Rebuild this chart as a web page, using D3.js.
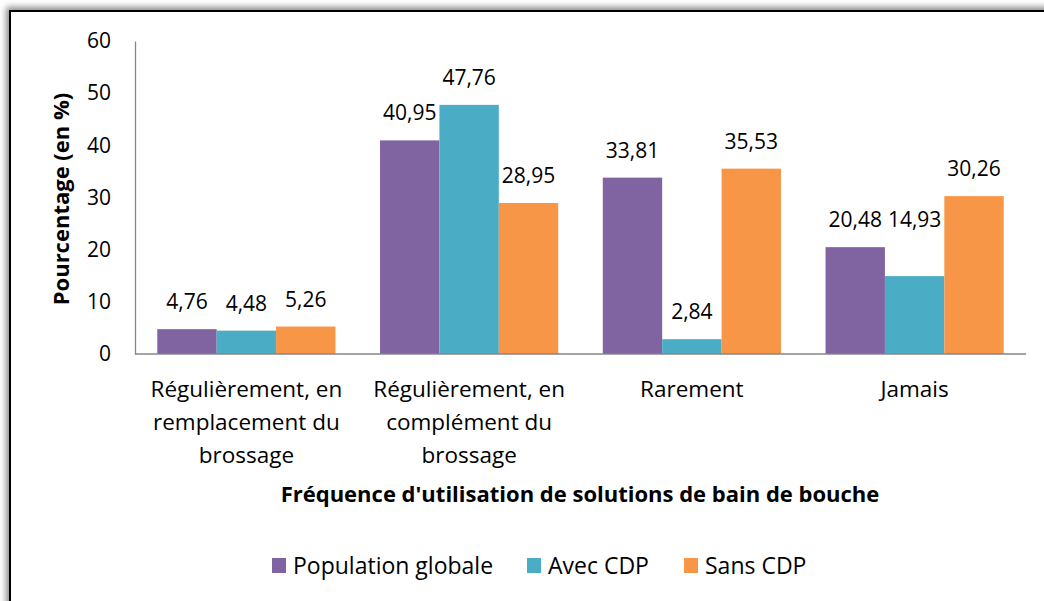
<!DOCTYPE html>
<html>
<head>
<meta charset="utf-8">
<script src="https://cdn.jsdelivr.net/npm/d3@7"></script>
<style>
  body { margin: 0; background: #fff; }
  svg { display: block; font-family: "Open Sans", sans-serif; }
</style>
</head>
<body>
<div id="chart"></div>
<script>
// data
var categories = [
  ["Régulièrement, en", "remplacement du", "brossage"],
  ["Régulièrement, en", "complément du", "brossage"],
  ["Rarement"],
  ["Jamais"]
];
var seriesNames = ["Population globale", "Avec CDP", "Sans CDP"];
var popGlobale = [4.76, 40.95, 33.81, 20.48];
var avecCDP = [4.48, 47.76, 2.84, 14.93];
var sansCDP = [5.26, 28.95, 35.53, 30.26];
var yTicks = [0, 10, 20, 30, 40, 50, 60];

var colors = ["#8064A2", "#4BACC6", "#F79646"];
var values = [popGlobale, avecCDP, sansCDP];

var W = 1044, H = 601;
var margin = {top: 41, left: 135, right: 18, bottom: 247};
var width = W - margin.left - margin.right,
    height = H - margin.top - margin.bottom;

var svg = d3.select("#chart").append("svg")
    .attr("width", W)
    .attr("height", H);

// frame with shadow
var defs = svg.append("defs");
var f = defs.append("filter").attr("id", "shadow")
    .attr("x", "-5%").attr("y", "-5%").attr("width", "110%").attr("height", "110%");
f.append("feDropShadow").attr("dx", -3).attr("dy", -3)
    .attr("stdDeviation", 3).attr("flood-color", "#000").attr("flood-opacity", 0.45);

svg.append("rect")
    .attr("x", 10).attr("y", 11)
    .attr("width", 1060).attr("height", 620)
    .attr("fill", "#fff")
    .attr("stroke", "#000")
    .attr("stroke-width", 2)
    .attr("filter", "url(#shadow)");

var g = svg.append("g")
    .attr("transform", "translate(" + margin.left + "," + margin.top + ")");

var x0 = d3.scaleBand()
    .domain(d3.range(categories.length))
    .range([0, width])
    .paddingInner(0.2)
    .paddingOuter(0.1);

var x1 = d3.scaleBand()
    .domain(d3.range(seriesNames.length))
    .range([0, x0.bandwidth()]);

var y = d3.scaleLinear()
    .domain([0, 60])
    .range([height, 0]);

// y axis
var yAxis = g.append("g")
    .call(d3.axisLeft(y).tickValues(yTicks).tickSize(0).tickPadding(24));
yAxis.select(".domain").attr("stroke", "#868686").attr("stroke-width", 1.3);
yAxis.selectAll("text")
    .style("font-size", "21px")
    .style("font-family", "'Open Sans', sans-serif")
    .attr("fill", "#000");

// bars
var groups = g.selectAll(".grp")
    .data(categories)
    .enter().append("g")
    .attr("transform", function(d, i) { return "translate(" + x0(i) + ",0)"; });

groups.each(function(c, i) {
  var grp = d3.select(this);
  seriesNames.forEach(function(s, j) {
    var v = values[j][i];
    grp.append("rect")
      .attr("x", x1(j))
      .attr("y", y(v))
      .attr("width", x1.bandwidth())
      .attr("height", height - y(v))
      .attr("fill", colors[j]);

    // labels: the teal "Jamais" one sits level with its neighbour in the original
    var ly = y(v) - 20;
    if (i === 3 && j === 1) ly = y(values[0][i]) - 20;
    grp.append("text")
      .attr("x", x1(j) + x1.bandwidth() / 2)
      .attr("y", ly)
      .attr("text-anchor", "middle")
      .style("font-size", "21px")
      .text(d3.format(".2f")(v).replace(".", ","));
  });
});

// x axis line
g.append("line")
    .attr("x1", 0).attr("x2", width)
    .attr("y1", height).attr("y2", height)
    .attr("stroke", "#868686").attr("stroke-width", 1.3);

// category labels
categories.forEach(function(lines, i) {
  var t = g.append("text")
    .attr("x", x0(i) + x0.bandwidth() / 2)
    .attr("y", height + 43)
    .attr("text-anchor", "middle")
    .style("font-size", "22.5px");
  lines.forEach(function(l, k) {
    t.append("tspan")
      .attr("x", x0(i) + x0.bandwidth() / 2)
      .attr("dy", k === 0 ? 0 : 33)
      .text(l);
  });
});

// axis titles
svg.append("text")
    .attr("x", 580).attr("y", 502)
    .attr("text-anchor", "middle")
    .style("font-size", "22px")
    .style("font-weight", "bold")
    .text("Fréquence d'utilisation de solutions de bain de bouche");

svg.append("text")
    .attr("transform", "translate(69,199) rotate(-90)")
    .attr("text-anchor", "middle")
    .style("font-size", "22px")
    .style("font-weight", "bold")
    .text("Pourcentage (en %)");

// legend
var legX = [272, 527, 684];
var legend = svg.append("g");
seriesNames.forEach(function(s, j) {
  legend.append("rect")
    .attr("x", legX[j]).attr("y", 558)
    .attr("width", 14).attr("height", 15)
    .attr("fill", colors[j]);
  legend.append("text")
    .attr("x", legX[j] + 21).attr("y", 574)
    .style("font-size", "23px")
    .text(s);
});
</script>
</body>
</html>
